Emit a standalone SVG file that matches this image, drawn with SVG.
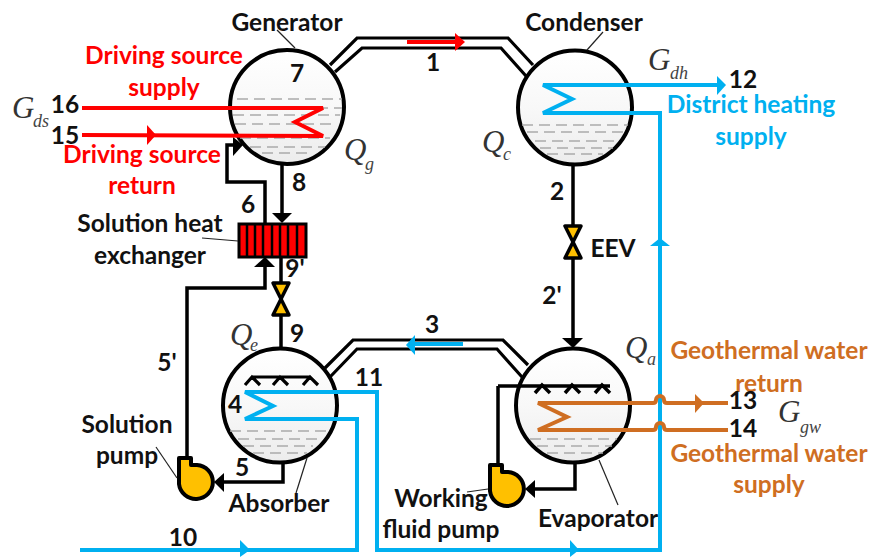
<svg xmlns="http://www.w3.org/2000/svg" xmlns:xlink="http://www.w3.org/1999/xlink" width="874" height="557" viewBox="0 0 874 557">
<style>
.lb{font-family:"Lato","Liberation Sans",sans-serif;font-weight:700;font-size:24.500px;fill:#111;text-anchor:middle}
.red{fill:#f00}.blue{fill:#00b0f0}.or{fill:#cf6e22}
.m{font-family:"Liberation Serif",serif;font-style:italic;font-size:31px;fill:#333}
.s{font-family:"Liberation Serif",serif;font-style:italic;font-size:18px;fill:#444}
.v{fill:url(#g);stroke:#000;stroke-width:4}
.d{fill:none;stroke:#aaa;stroke-width:1.5;stroke-dasharray:11 6}
.k{fill:none;stroke:#000;stroke-width:3.5}
.kt{fill:none;stroke:#000;stroke-width:3.200}
.t{fill:none;stroke:#222;stroke-width:1.2}
.rl{fill:none;stroke:#f00;stroke-width:4}
.bl{fill:none;stroke:#00b0f0;stroke-width:4}
.ol{fill:none;stroke:#cf6e22;stroke-width:4}
.pu{fill:#ffc000;stroke:#000;stroke-width:4;stroke-linejoin:round}
.va{fill:#ffc000;stroke:#000;stroke-width:3.500;stroke-linejoin:round}
</style>
<defs>
<linearGradient id="g" x1="0" y1="0" x2="0" y2="1"><stop offset="0" stop-color="#fff"/><stop offset="0.5" stop-color="#f8f8f8"/><stop offset="1" stop-color="#ececec"/></linearGradient>
<path id="pump" d="M179,458H191V465H197A17,17 0 1 1 179,484Z"/>
<path id="valve" d="M-8,-16H8L-8,16H8Z"/>
</defs>

<g id="connectors">
<path class="kt" d="M330,65L357,38H508L533,65M335,72L362,48H501L526,76"/>
<path class="kt" d="M325,368L353,340H503L528,365M330,377L357,349H497L522,377"/>
<path class="rl" d="M407,42H456"/><path fill="#f00" d="M455,33L465,42L455,51Z"/>
<path class="bl" d="M463,344H414"/><path fill="#00b0f0" d="M415,335L406,345L415,355Z"/>
<path class="k" d="M265,225V182H227V145H236"/><path d="M233,137L243,145L233,156Z"/>
<path class="k" d="M282,164V215"/><path d="M272,213H292L282,223Z"/>
<path class="k" d="M265,266V288H187V458"/><path d="M254,267H275L265,257Z"/>
<path class="k" d="M281,258V366"/><path d="M270,366H291L280,376Z"/>
<path class="k" d="M283,463V482H222"/><path d="M224,473V492L214,482Z"/>
<path class="k" d="M573,165V340"/><path d="M562,338H583L573,348Z"/>
<path class="k" d="M575,463V489H532"/><path d="M535,480V498L525,489Z"/>
<path class="k" d="M498,464V386"/>
</g>

<g id="generator">
<circle class="v" cx="287" cy="107" r="57"/>
<path class="d" d="M237,99H342M232,108H342M233,115H340M235,124H337M240,138H330M250,147H325M262,153H310"/>
<text class="lb" x="287" y="31">Generator</text><path class="t" d="M277,30L295,48"/>
<text class="lb" x="297" y="82">7</text>
<text class="m" x="344" y="160">Q</text><text class="s" x="365" y="170">g</text>
</g>

<g id="condenser">
<circle class="v" cx="575" cy="107.500" r="57"/>
<path class="d" d="M522,125H628M527,132H625M535,141H617M540,148H613M547,154H603"/>
<text class="lb" x="584" y="31">Condenser</text><path class="t" d="M603,32L587,50"/>
<text class="m" x="482" y="152">Q</text><text class="s" x="503" y="160">c</text>
</g>

<g id="absorber">
<circle class="v" cx="280" cy="405.500" r="57"/>
<path class="d" d="M230,431H328M238,439H320M243,446H313M253,453H307"/>
<path class="kt" d="M252,377H310M245,385L252,377L260,385M273,385L280,377L288,385M303,385L310,377L318,385"/>
<text class="lb" x="235" y="413">4</text>
<text class="lb" x="279" y="512">Absorber</text><path class="t" d="M307,458L296,493"/>
<text class="m" x="230" y="345">Q</text><text class="s" x="250" y="351">e</text>
</g>

<g id="evaporator">
<circle class="v" cx="573" cy="405.500" r="57"/>
<path class="d" d="M530,439H617M537,446H612M547,453H603"/>
<path class="k" d="M498,386H610"/>
<path class="k" d="M535,393L542,385L550,393M565,393L572,385L580,393M595,393L602,385L610,393"/>
<text class="lb" x="598" y="527">Evaporator</text><path class="t" d="M599,460L618,505"/>
<text class="m" x="625" y="358">Q</text><text class="s" x="647" y="365">a</text>
</g>

<g id="driving-source">
<path class="rl" d="M82,108H323L295,122L323,136L82,135"/>
<path fill="#f00" d="M147,125L156,135L147,145Z"/>
<text class="lb red" x="164" y="64">Driving source</text>
<text class="lb red" x="164" y="96">supply</text>
<text class="lb red" x="142" y="163">Driving source</text>
<text class="lb red" x="142" y="194">return</text>
<text class="lb" x="65" y="113">16</text><text class="lb" x="65" y="144">15</text>
<text class="m" x="12" y="118">G</text><text class="s" x="33" y="127">ds</text>
</g>

<g id="heat-exchanger">
<rect x="239" y="224" width="67" height="33" fill="#f00" stroke="#000" stroke-width="3"/>
<path stroke="#000" stroke-width="2.500" d="M247,224V257M255,224V257M263,224V257M272,224V257M280,224V257M288,224V257M297,224V257"/>
<text class="lb" x="150" y="232">Solution heat</text>
<text class="lb" x="150" y="264">exchanger</text>
<path class="t" d="M202,238L238,241"/>
</g>

<g id="valve-solution"><use href="#valve" class="va" x="281" y="299"/></g>
<g id="valve-eev"><use href="#valve" class="va" x="573" y="242"/><text class="lb" x="613" y="257">EEV</text></g>

<g id="solution-pump">
<use href="#pump" class="pu"/>
<text class="lb" x="127" y="433">Solution</text><text class="lb" x="127" y="464">pump</text>
<path class="t" d="M156,447L177,478"/>
</g>
<g id="working-fluid-pump">
<use href="#pump" class="pu" x="311" y="7"/>
<text class="lb" x="441" y="507">Working</text><text class="lb" x="441" y="538">fluid pump</text>
<path class="t" d="M467,492L488,489"/>
</g>

<g id="water-circuits">
<path class="bl" d="M80,550H357V419H245L273,406L245,392H377V550H660V113H543L572,99L543,85H720"/>
<path fill="#00b0f0" d="M717,76L726,85L717,95Z"/>
<path fill="#00b0f0" d="M240,540L250,550L240,557Z"/>
<path fill="#00b0f0" d="M570,540L579,550L570,557Z"/>
<path fill="#00b0f0" d="M650,246L660,238L670,246Z"/>
<text class="lb blue" x="751" y="113">District heating</text>
<text class="lb blue" x="751" y="145">supply</text>
<text class="lb" x="743" y="88">12</text>
<text class="m" x="648" y="70">G</text><text class="s" x="670" y="79">dh</text>
<path class="ol" d="M728,403H667Q664,403 664,400A4,4 0 0 0 656,400Q656,403 653,403H538L567,417L538,430H653Q656,430 656,427A4,4 0 0 1 664,427Q664,430 667,430H728"/>
<path fill="#cf6e22" d="M695,394L704,403L695,413Z"/>
<text class="lb or" x="769" y="359">Geothermal water</text>
<text class="lb or" x="769" y="392">return</text>
<text class="lb or" x="769" y="462">Geothermal water</text>
<text class="lb or" x="769" y="493">supply</text>
<text class="lb" x="743" y="409">13</text><text class="lb" x="743" y="437">14</text>
<text class="m" x="778" y="422">G</text><text class="s" x="800" y="433">gw</text>
</g>

<g id="state-labels">
<text class="lb" x="433" y="71">1</text>
<text class="lb" x="557" y="200">2</text>
<text class="lb" x="552" y="304">2'</text>
<text class="lb" x="432" y="333">3</text>
<text class="lb" x="242" y="476">5</text>
<text class="lb" x="167" y="371">5'</text>
<text class="lb" x="248" y="213">6</text>
<text class="lb" x="299" y="191">8</text>
<text class="lb" x="297" y="342">9</text>
<text class="lb" x="295" y="277">9'</text>
<text class="lb" x="183" y="546">10</text>
<text class="lb" x="369" y="386">11</text>
</g>
</svg>
